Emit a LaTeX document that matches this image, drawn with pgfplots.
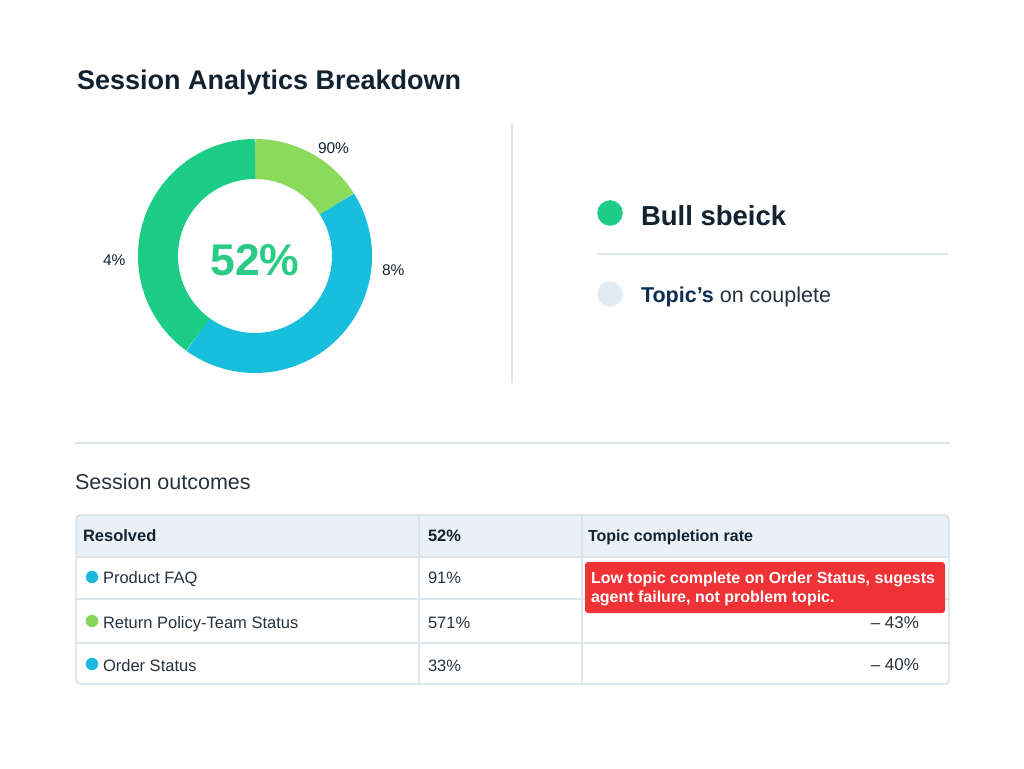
\documentclass[border=0pt]{standalone}
\usepackage{pgfplots}
\pgfplotsset{compat=1.18}
\usepackage{fontspec}
\setmainfont{Liberation Sans}

\definecolor{ink}{HTML}{122230}
\definecolor{body}{HTML}{27323C}
\definecolor{navy}{HTML}{0F2E55}
\definecolor{segGreen}{HTML}{1DCC87}
\definecolor{segLime}{HTML}{8CDA5B}
\definecolor{segCyan}{HTML}{17BFDD}
\definecolor{bigNum}{HTML}{2CCB85}
\definecolor{paleDot}{HTML}{E2EBF2}
\definecolor{rule}{HTML}{DCE5EB}
\definecolor{frame}{HTML}{D3DEE6}
\definecolor{headbg}{HTML}{E9F1F6}
\definecolor{alert}{HTML}{EE3236}
\definecolor{dotCyan}{HTML}{1CB9DC}
\definecolor{dotLime}{HTML}{86D45B}

\newcommand\fs[1]{\fontsize{#1bp}{#1bp}\selectfont}

% donut shares in percent, clockwise from twelve o'clock
\def\shLime{16}
\def\shCyan{44}
\def\shGreen{40}

\begin{document}
\begin{tikzpicture}[every node/.style={inner sep=0pt, outer sep=0pt}]
\begin{axis}[
  width=1024bp, height=768bp, scale only axis,
  xmin=0, xmax=1024, ymin=0, ymax=768, y dir=reverse,
  axis lines=none, xtick=\empty, ytick=\empty,
  axis background/.style={fill=white},
  clip=false,
]
% ---------------- title
\node[anchor=base west, text=ink, font=\fs{27}\bfseries] at (77,90) {Session Analytics Breakdown};

% ---------------- donut (ring drawn as thick arcs, butt caps give radial edges)
\pgfmathsetmacro{\aA}{90}
\pgfmathsetmacro{\aB}{90-3.6*\shLime}
\pgfmathsetmacro{\aC}{\aB-3.6*\shCyan}
\pgfmathsetmacro{\aD}{\aC-3.6*\shGreen}
\addplot[segLime, line width=40bp, line join=round, no markers, domain=\aB:\aA, samples=40]
  ({255+97*cos(x)}, {256-97*sin(x)});
\addplot[segCyan, line width=40bp, line join=round, no markers, domain=\aC:\aB, samples=90]
  ({255+97*cos(x)}, {256-97*sin(x)});
\addplot[segGreen, line width=40bp, line join=round, no markers, domain=\aD:\aC, samples=90]
  ({255+97*cos(x)}, {256-97*sin(x)});

\node[anchor=base, text=bigNum, font=\fs{44.5}\bfseries] at (255,275) {52\%};
\node[anchor=base west, text=ink, font=\fs{15.5}] at (318,153) {90\%};
\node[anchor=base west, text=ink, font=\fs{15.5}] at (382,275) {8\%};
\node[anchor=base west, text=ink, font=\fs{15.5}] at (103,265) {4\%};

% ---------------- divider and legend
\draw[rule, line width=1.2bp] (512,123) -- (512,383);
\addplot[only marks, mark=*, mark size=12.5bp, color=segGreen] coordinates {(610,213)};
\node[anchor=base west, text=ink, font=\fs{27.5}\bfseries] at (641,225) {Bull sbeick};
\draw[rule, line width=1.2bp] (597,254) -- (948,254);
\addplot[only marks, mark=*, mark size=12.5bp, color=paleDot] coordinates {(610,294)};
\node[anchor=base west, font=\fs{21.5}] at (641,302)
  {\textcolor{navy}{\bfseries Topic’s} \textcolor{body}{on couplete}};

% ---------------- section rule and heading
\draw[rule, line width=1.2bp] (75,443) -- (950,443);
\node[anchor=base west, text=body, font=\fs{21.5}] at (75,489) {Session outcomes};

% ---------------- table
\fill[headbg, rounded corners=4bp] (76,557) |- (949,515) |- (76,557) -- cycle;
\draw[rule, line width=1.2bp] (76,557) -- (949,557);
\draw[rule, line width=1.2bp] (76,599) -- (949,599);
\draw[rule, line width=1.2bp] (76,643) -- (949,643);
\draw[rule, line width=1.2bp] (419,515) -- (419,684);
\draw[rule, line width=1.2bp] (582,515) -- (582,684);
\draw[frame, line width=1.2bp, rounded corners=4bp] (76,515) rectangle (949,684);

\node[anchor=base west, text=ink, font=\fs{16.5}\bfseries] at (83,541) {Resolved};
\node[anchor=base west, text=ink, font=\fs{16.5}\bfseries] at (428,541) {52\%};
\node[anchor=base west, text=ink, font=\fs{16}\bfseries] at (588,541) {Topic completion rate};

\addplot[only marks, mark=*, mark size=6bp, color=dotCyan] coordinates {(92,577)};
\addplot[only marks, mark=*, mark size=6bp, color=dotLime] coordinates {(92,621)};
\addplot[only marks, mark=*, mark size=6bp, color=dotCyan] coordinates {(92,664)};

\node[anchor=base west, text=body, font=\fs{16.5}] at (103,583) {Product FAQ};
\node[anchor=base west, text=body, font=\fs{16.5}] at (103,628) {Return Policy-Team Status};
\node[anchor=base west, text=body, font=\fs{16.5}] at (103,671) {Order Status};

\node[anchor=base west, text=body, font=\fs{16.5}] at (428,583) {91\%};
\node[anchor=base west, text=body, font=\fs{16.5}] at (428,628) {571\%};
\node[anchor=base west, text=body, font=\fs{16.5}] at (428,671) {33\%};

\node[anchor=base east, text=body, font=\fs{17}] at (919,628) {– 43\%};
\node[anchor=base east, text=body, font=\fs{17}] at (919,670) {– 40\%};

% ---------------- alert callout
\fill[alert, rounded corners=3bp] (585,562) rectangle (945,613);
\node[anchor=base west, text=white, font=\fs{16}\bfseries] at (591,583) {Low topic complete on Order Status, sugests};
\node[anchor=base west, text=white, font=\fs{16}\bfseries] at (591,602) {agent failure, not problem topic.};
\end{axis}
\end{tikzpicture}
\end{document}
